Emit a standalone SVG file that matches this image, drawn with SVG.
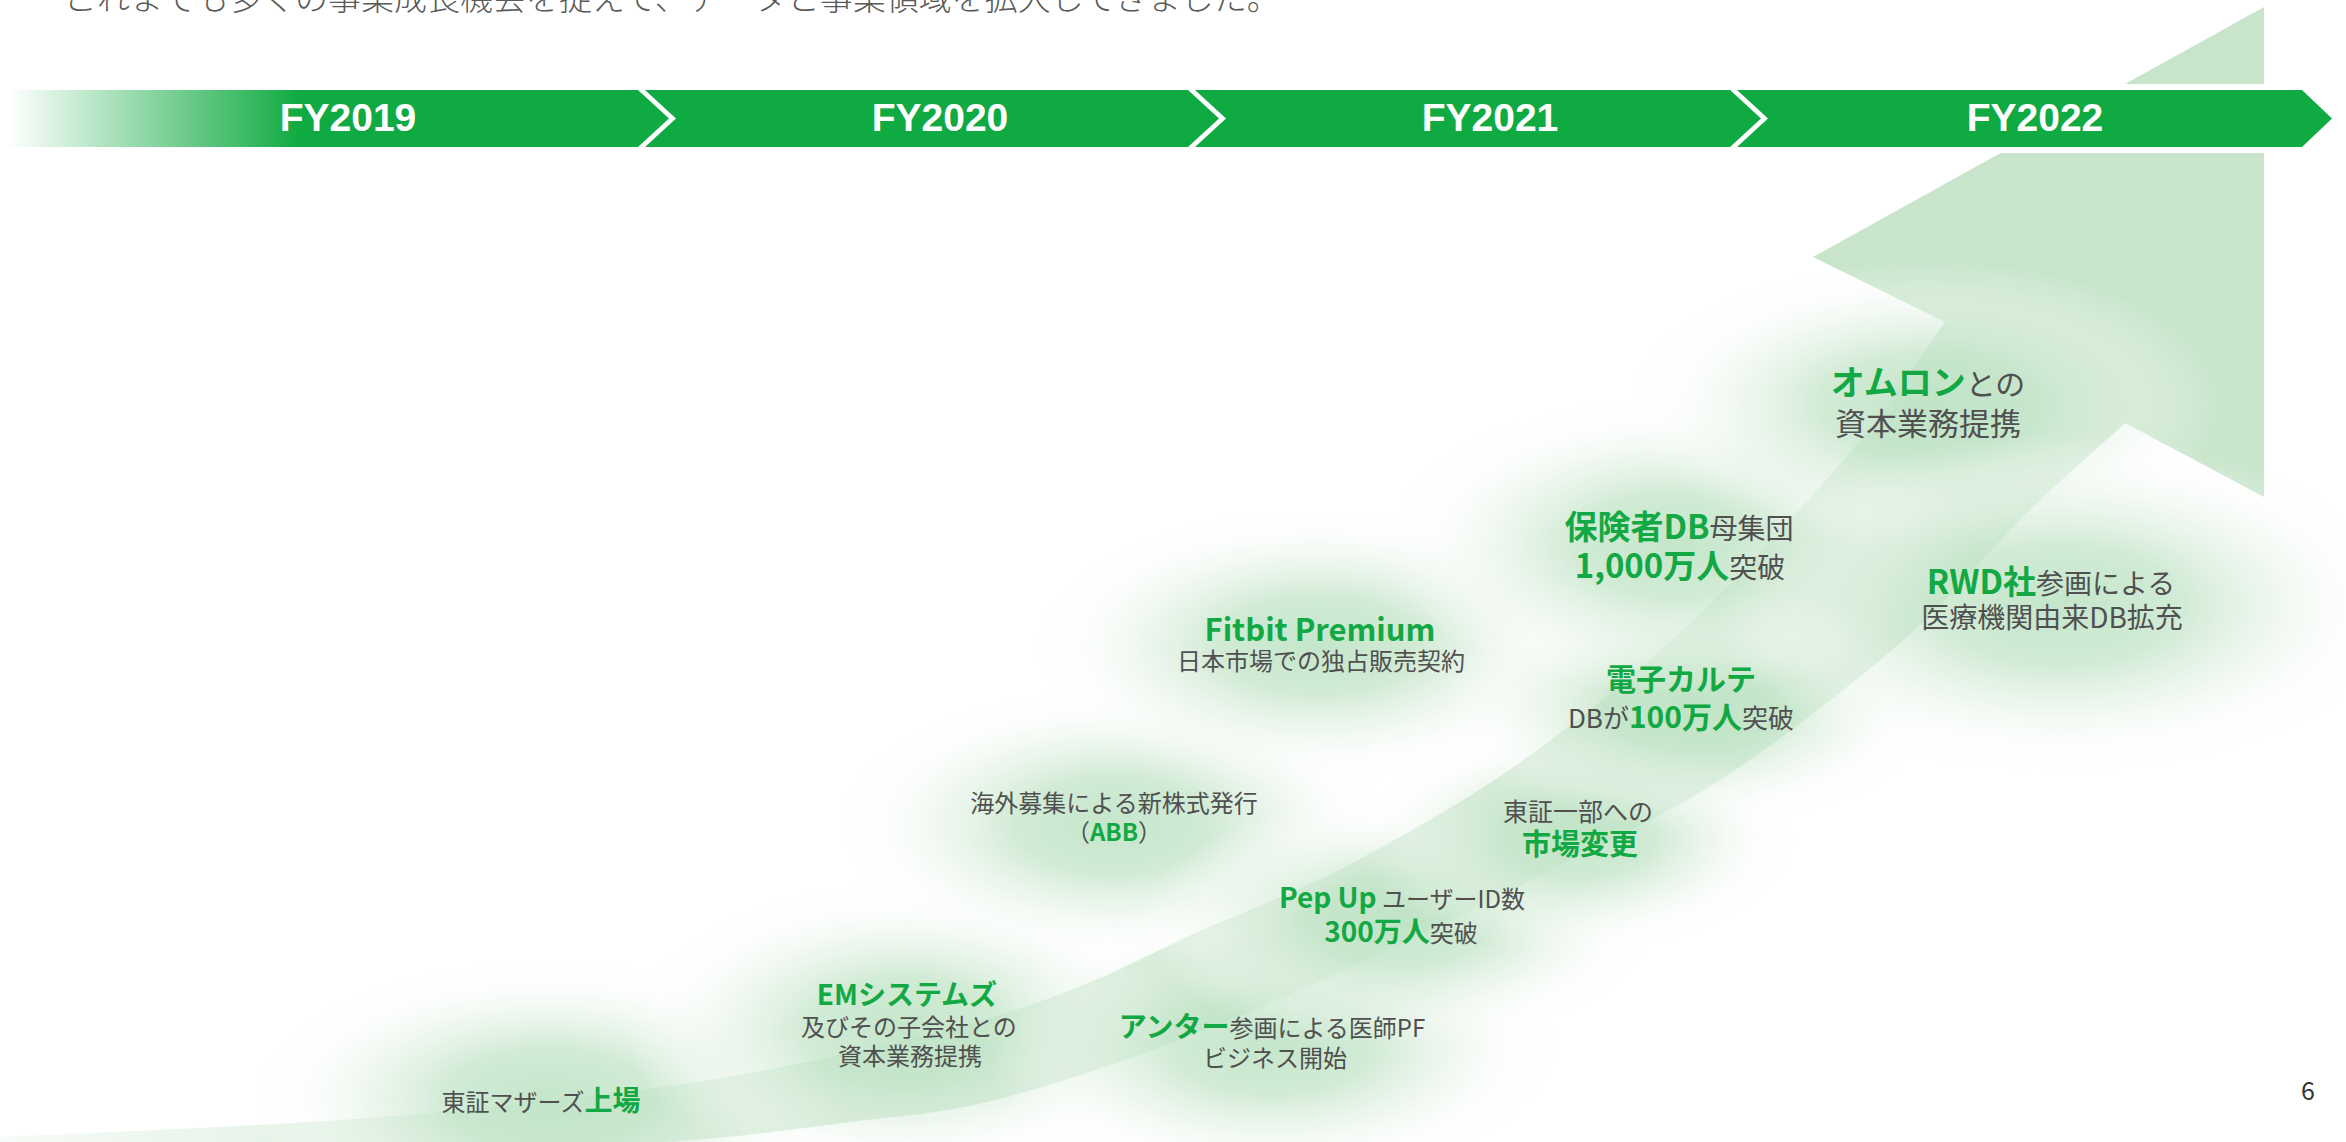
<svg xmlns="http://www.w3.org/2000/svg" width="2346" height="1142" viewBox="0 0 2346 1142">
<defs>
<style>
text{font-family:"Noto Sans CJK JP","Noto Sans",sans-serif}
.g{fill:#12a843;font-weight:700}
.t{fill:#505050;font-weight:400}
.fy{font-family:"Liberation Sans",Arial,sans-serif;font-weight:700;font-size:39px;fill:#ffffff}
.bar{fill:#0faa41}
</style>
<linearGradient id="barFade" gradientUnits="userSpaceOnUse" x1="8" y1="0" x2="300" y2="0">
<stop offset="0" stop-color="#0faa41" stop-opacity="0"/>
<stop offset="1" stop-color="#0faa41" stop-opacity="1"/>
</linearGradient>
<linearGradient id="bandFade" gradientUnits="userSpaceOnUse" x1="0" y1="0" x2="800" y2="0">
<stop offset="0" stop-color="#c8e5cb" stop-opacity="0.15"/>
<stop offset="1" stop-color="#c8e5cb" stop-opacity="1"/>
</linearGradient>
<radialGradient id="glow">
<stop offset="0" stop-color="#c0e4c6" stop-opacity="0.92"/>
<stop offset="0.35" stop-color="#c6e6cb" stop-opacity="0.8"/>
<stop offset="0.6" stop-color="#dff0e1" stop-opacity="0.55"/>
<stop offset="0.8" stop-color="#f4faf4" stop-opacity="0.3"/>
<stop offset="1" stop-color="#ffffff" stop-opacity="0"/>
</radialGradient>
</defs>
<rect width="2346" height="1142" fill="#ffffff"/>

<text x="64" y="10" font-size="33" font-weight="300" fill="#595959">これまでも多くの事業成長機会を捉えて、データと事業領域を拡大してきました。</text>

<g id="connectors">
<path id="growth-arrow" fill="url(#bandFade)" d="M0,1137 C64,1134 268,1126 383,1117 C498,1108 600,1096 689,1083 C778,1070 854,1052 918,1037 C982,1022 1024,1008 1071,990 C1118,972 1155,951 1200,931 C1245,911 1290,895 1343,868 C1395,840 1458,806 1515,766 C1572,726 1630,680 1687,626 C1744,572 1815,494 1858,443 C1901,392 1930,342 1945,322 L1813,257 L2264,7 L2264,497 L2125,423 C2109,438 2068,473 2030,510 C1992,547 1952,598 1900,643 C1848,688 1777,743 1720,780 C1663,817 1610,839 1560,865 C1510,891 1480,907 1420,935 C1360,963 1271,1005 1200,1032 C1129,1060 1055,1085 995,1100 C935,1115 897,1116 842,1123 C787,1130 757,1135 667,1142 C577,1149 411,1160 300,1165 C189,1171 50,1173 0,1175 Z"/>
</g>

<g id="glows">
<ellipse cx="548" cy="1098" rx="300" ry="140" fill="url(#glow)"/>
<ellipse cx="905" cy="1030" rx="280" ry="150" fill="url(#glow)"/>
<ellipse cx="1272" cy="1045" rx="290" ry="140" fill="url(#glow)"/>
<ellipse cx="1114" cy="825" rx="280" ry="140" fill="url(#glow)"/>
<ellipse cx="1400" cy="922" rx="260" ry="125" fill="url(#glow)"/>
<ellipse cx="1578" cy="838" rx="220" ry="115" fill="url(#glow)"/>
<ellipse cx="1318" cy="645" rx="290" ry="140" fill="url(#glow)"/>
<ellipse cx="1690" cy="705" rx="250" ry="125" fill="url(#glow)"/>
<ellipse cx="1675" cy="545" rx="290" ry="150" fill="url(#glow)"/>
<ellipse cx="1925" cy="405" rx="300" ry="145" fill="url(#glow)"/>
<ellipse cx="2060" cy="605" rx="350" ry="170" fill="url(#glow)"/>
</g>

<g id="timeline">
<rect x="0" y="84" width="2346" height="69" fill="#ffffff"/>
<polygon fill="url(#barFade)" points="0,90 638,90 669,118.5 638,147 0,147"/>
<polygon class="bar" points="645,90 1188,90 1219,118.5 1188,147 645,147 676,118.5"/>
<polygon class="bar" points="1195,90 1730,90 1761,118.5 1730,147 1195,147 1226,118.5"/>
<polygon class="bar" points="1737,90 2302,90 2332,118.5 2302,147 1737,147 1768,118.5"/>
<text class="fy" x="348" y="131" text-anchor="middle">FY2019</text>
<text class="fy" x="940" y="131" text-anchor="middle">FY2020</text>
<text class="fy" x="1490" y="131" text-anchor="middle">FY2021</text>
<text class="fy" x="2035" y="131" text-anchor="middle">FY2022</text>
</g>

<g id="node-mothers">
<text x="541" y="1111" text-anchor="middle"><tspan class="t" font-size="24">東証マザーズ</tspan><tspan class="g" font-size="28">上場</tspan></text>
</g>
<g id="node-em">
<text class="g" x="907" y="1005" text-anchor="middle" font-size="28">EMシステムズ</text>
<text class="t" x="909" y="1036" text-anchor="middle" font-size="24">及びその子会社との</text>
<text class="t" x="910" y="1065" text-anchor="middle" font-size="24">資本業務提携</text>
</g>
<g id="node-anter">
<text x="1272" y="1037" text-anchor="middle"><tspan class="g" font-size="28">アンター</tspan><tspan class="t" font-size="24">参画による医師PF</tspan></text>
<text class="t" x="1275" y="1067" text-anchor="middle" font-size="24">ビジネス開始</text>
</g>
<g id="node-abb">
<text class="t" x="1114" y="812" text-anchor="middle" font-size="24">海外募集による新株式発行</text>
<text x="1114" y="841" text-anchor="middle" font-size="24"><tspan class="t">（</tspan><tspan class="g">ABB</tspan><tspan class="t">）</tspan></text>
</g>
<g id="node-pepup">
<text x="1402" y="908" text-anchor="middle"><tspan class="g" font-size="28">Pep Up</tspan><tspan class="t" font-size="24"> ユーザーID数</tspan></text>
<text x="1401" y="942" text-anchor="middle"><tspan class="g" font-size="28">300万人</tspan><tspan class="t" font-size="24">突破</tspan></text>
</g>
<g id="node-tse1">
<text class="t" x="1578" y="821" text-anchor="middle" font-size="25">東証一部への</text>
<text class="g" x="1580" y="855" text-anchor="middle" font-size="29">市場変更</text>
</g>
<g id="node-fitbit">
<text class="g" x="1320" y="641" text-anchor="middle" font-size="31">Fitbit Premium</text>
<text class="t" x="1321" y="670" text-anchor="middle" font-size="24">日本市場での独占販売契約</text>
</g>
<g id="node-emr">
<text class="g" x="1681" y="690" text-anchor="middle" font-size="30">電子カルテ</text>
<text x="1681" y="728" text-anchor="middle"><tspan class="t" font-size="26">DBが</tspan><tspan class="g" font-size="30">100万人</tspan><tspan class="t" font-size="26">突破</tspan></text>
</g>
<g id="node-insurer">
<text x="1679" y="539" text-anchor="middle"><tspan class="g" font-size="33">保険者DB</tspan><tspan class="t" font-size="28">母集団</tspan></text>
<text x="1680" y="578" text-anchor="middle"><tspan class="g" font-size="33">1,000万人</tspan><tspan class="t" font-size="28">突破</tspan></text>
</g>
<g id="node-omron">
<text x="1928" y="395" text-anchor="middle"><tspan class="g" font-size="34">オムロン</tspan><tspan class="t" font-size="30">との</tspan></text>
<text class="t" x="1928" y="435" text-anchor="middle" font-size="31">資本業務提携</text>
</g>
<g id="node-rwd">
<text x="2051" y="594" text-anchor="middle"><tspan class="g" font-size="33">RWD社</tspan><tspan class="t" font-size="28">参画による</tspan></text>
<text class="t" x="2052" y="628" text-anchor="middle" font-size="28">医療機関由来DB拡充</text>
</g>

<text x="2308" y="1100" text-anchor="middle" font-family="Liberation Sans,Arial,sans-serif" font-size="25" fill="#333333">6</text>
</svg>
